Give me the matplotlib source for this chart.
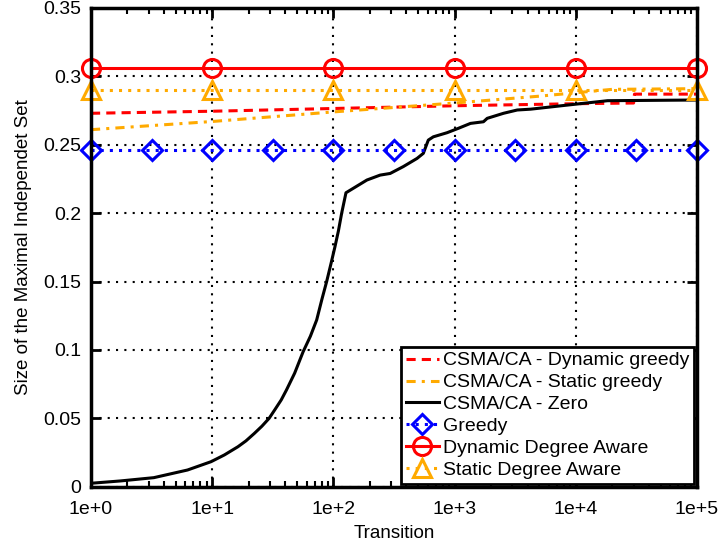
import numpy as np
import matplotlib
matplotlib.use('Agg')
import matplotlib.pyplot as plt
from matplotlib.ticker import FixedLocator, LogLocator, NullFormatter

plt.rcParams['font.family'] = ['Liberation Sans', 'DejaVu Sans']

# CSMA/CA - Dynamic greedy
dyn_greedy_x = [1, 10, 100, 1000, 10000, 30000, 30500, 100000]
dyn_greedy_y = [0.273, 0.2745, 0.2765, 0.2785, 0.280, 0.2805, 0.287, 0.287]

# CSMA/CA - Static greedy
stat_greedy_x = [1, 10, 100, 1000, 5000, 10000, 20000, 100000]
stat_greedy_y = [0.261, 0.267, 0.274, 0.2805, 0.2855, 0.288, 0.2905, 0.291]

# CSMA/CA - Zero
zero_x = [1, 1.75, 3.3, 6.26, 9.8, 12.6, 16.3, 19, 22.3, 25.7, 29.5, 33, 37.1, 41, 47.9,
          56.3, 64.6, 72.8, 80.4, 88, 95.5, 103, 110, 117, 127,
          145, 189, 243, 294, 377, 490, 552, 607, 668, 867,
          1074, 1352, 1730, 1858, 2535, 3289, 4236, 8531, 18280, 100000]
zero_y = [0.0025, 0.0042, 0.0066, 0.0122, 0.0183, 0.0232, 0.0292, 0.0335, 0.039, 0.0442,
          0.05, 0.0565, 0.0634, 0.0707, 0.083, 0.0987, 0.110, 0.1219, 0.137, 0.15, 0.163,
          0.1754, 0.187, 0.1999, 0.2149,
          0.218, 0.2242, 0.2278, 0.229, 0.234, 0.240, 0.2437, 0.2534, 0.2558, 0.2588,
          0.262, 0.2656, 0.2668, 0.2693, 0.273, 0.2754, 0.276, 0.279, 0.2822, 0.2827]

# Greedy
greedy_x = [1, 3.162, 10, 31.62, 100, 316.2, 1000, 3162, 10000, 31623, 100000]
greedy_y = [0.246] * 11

# Dynamic Degree Aware
dda_x = [1, 10, 100, 1000, 10000, 100000]
dda_y = [0.306] * 6

# Static Degree Aware
sda_x = [1, 10, 100, 1000, 10000, 100000]
sda_y = [0.29] * 6

orange = '#ffaa00'

fig = plt.figure(figsize=(7.21, 5.49), dpi=100)
ax = fig.add_axes([0.1262, 0.1135, 0.8405, 0.872])

ax.plot(dyn_greedy_x, dyn_greedy_y, color='red', linestyle=(0, (3, 2)), lw=2.2,
        label='CSMA/CA - Dynamic greedy')
ax.plot(stat_greedy_x, stat_greedy_y, color=orange, linestyle=(0, (3, 2, 1, 2)), lw=2.2,
        label='CSMA/CA - Static greedy')
ax.plot(zero_x, zero_y, color='black', lw=2.2, label='CSMA/CA - Zero')
ax.plot(greedy_x, greedy_y, color='blue', linestyle=(0, (1, 2)), lw=2.2,
        marker='D', markersize=10, markerfacecolor='none', markeredgewidth=2.2,
        label='Greedy', clip_on=False)
ax.plot(dda_x, dda_y, color='red', lw=2.2, marker='o', markersize=13,
        markerfacecolor='none', markeredgewidth=2.2, label='Dynamic Degree Aware',
        clip_on=False)
ax.plot(sda_x, sda_y, color=orange, linestyle=(0, (1, 2)), lw=2.2, marker='^',
        markersize=13, markerfacecolor='none', markeredgewidth=2.2,
        label='Static Degree Aware', clip_on=False)

ax.set_xscale('log')
ax.set_xlim(1, 1e5)
ax.set_ylim(0, 0.35)
ax.xaxis.set_major_locator(FixedLocator([1, 10, 100, 1000, 10000, 100000]))
ax.set_xticklabels(['1e+0', '1e+1', '1e+2', '1e+3', '1e+4', '1e+5'])
ax.xaxis.set_minor_locator(LogLocator(base=10, subs=np.arange(2, 10)))
ax.xaxis.set_minor_formatter(NullFormatter())
yt = [0, 0.05, 0.1, 0.15, 0.2, 0.25, 0.3, 0.35]
ax.set_yticks(yt)
ax.set_yticklabels(['0', '0.05', '0.1', '0.15', '0.2', '0.25', '0.3', '0.35'])

ax.grid(True, which='major', color='black', linestyle=(0, (1, 3)), lw=1.5)
ax.tick_params(which='major', direction='in', length=7, width=2, labelsize=14,
               top=True, right=True)
ax.tick_params(axis='x', which='major', pad=10)
ax.tick_params(axis='y', which='major', pad=7)
ax.tick_params(which='minor', direction='in', length=4, width=1.5, top=True)
for s in ax.spines.values():
    s.set_linewidth(2.5)

ax.set_xlabel('Transition', fontsize=13.5, labelpad=5)
ax.set_ylabel('Size of the Maximal Independet Set', fontsize=13.5, labelpad=8)

leg = ax.legend(loc='lower right', fontsize=14, numpoints=1, handlelength=1.7,
                handletextpad=0.2, labelspacing=0.22, borderpad=0.25,
                borderaxespad=0.15, fancybox=False, framealpha=1,
                edgecolor='black')
leg.get_frame().set_linewidth(2)

fig.savefig('out.png', dpi=100)
